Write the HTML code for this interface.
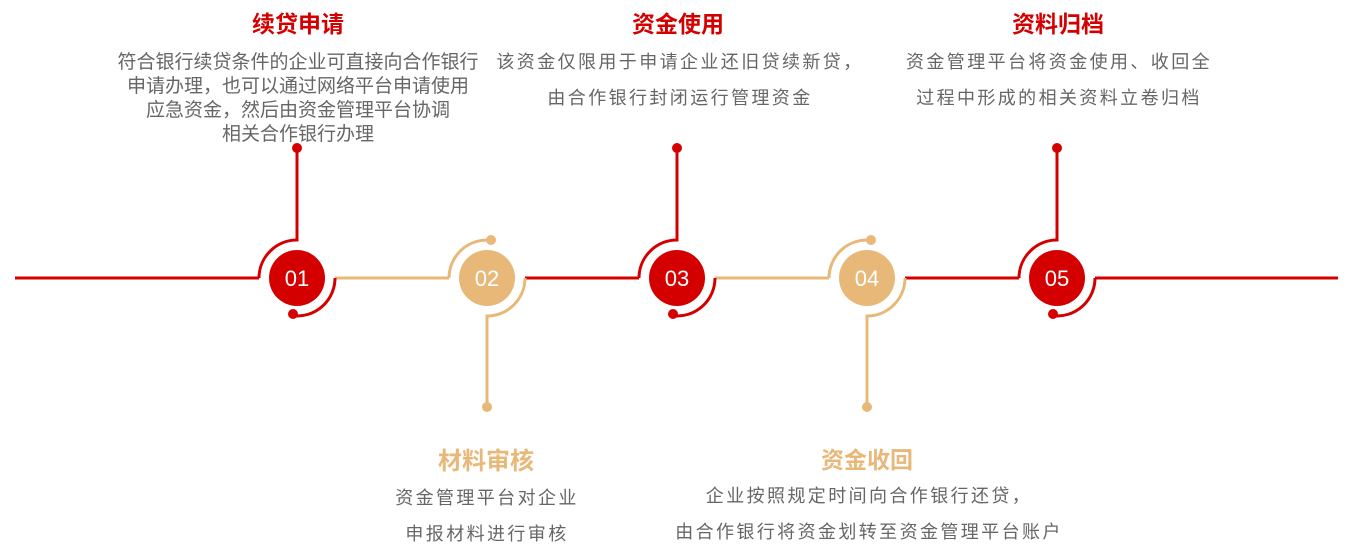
<!DOCTYPE html>
<html><head><meta charset="utf-8"><style>
html,body{margin:0;padding:0;background:#fff;}
svg{display:block;}
text{font-family:"Liberation Sans","Noto Sans CJK SC",sans-serif;}
.t{font-size:23px;font-weight:bold;text-anchor:middle;}
.b{font-size:18px;fill:#666;text-anchor:middle;}
.n{font-size:22px;fill:#fff;text-anchor:middle;}
</style></head><body>
<svg width="1352" height="551" viewBox="0 0 1352 551" xmlns="http://www.w3.org/2000/svg">
<g fill="none" stroke-width="3">
<line x1="15" y1="278" x2="259" y2="278" stroke="#d40000"/>
<line x1="335" y1="278" x2="449" y2="278" stroke="#e8b878"/>
<line x1="525" y1="278" x2="639" y2="278" stroke="#d40000"/>
<line x1="715" y1="278" x2="829" y2="278" stroke="#e8b878"/>
<line x1="905" y1="278" x2="1019" y2="278" stroke="#d40000"/>
<line x1="1095" y1="278" x2="1338" y2="278" stroke="#d40000"/>
<g stroke="#d40000">
<path d="M259 278 A38 38 0 0 1 297 240 L297 148"/><path d="M335 278 A38 38 0 0 1 293 315.8"/>
<path d="M639 278 A38 38 0 0 1 677 240 L677 148"/><path d="M715 278 A38 38 0 0 1 673 315.8"/>
<path d="M1019 278 A38 38 0 0 1 1057 240 L1057 148"/><path d="M1095 278 A38 38 0 0 1 1053 315.8"/>
</g>
<g stroke="#e8b878">
<path d="M449 278 A38 38 0 0 1 491 240.2"/><path d="M525 278 A38 38 0 0 1 487 316 L487 407"/>
<path d="M829 278 A38 38 0 0 1 871 240.2"/><path d="M905 278 A38 38 0 0 1 867 316 L867 407"/>
</g>
</g>
<g fill="#d40000">
<circle cx="297" cy="148" r="5"/><circle cx="293" cy="314" r="5"/>
<circle cx="677" cy="148" r="5"/><circle cx="673" cy="314" r="5"/>
<circle cx="1057" cy="148" r="5"/><circle cx="1053" cy="314" r="5"/>
<circle cx="297" cy="278" r="28"/><circle cx="677" cy="278" r="28"/><circle cx="1057" cy="278" r="28"/>
</g>
<g fill="#e8b878">
<circle cx="491" cy="240" r="5"/><circle cx="487" cy="407" r="5"/>
<circle cx="871" cy="240" r="5"/><circle cx="867" cy="407" r="5"/>
<circle cx="487" cy="278" r="28"/><circle cx="867" cy="278" r="28"/>
</g>
<text class="n" x="297" y="286">01</text>
<text class="n" x="487" y="286">02</text>
<text class="n" x="677" y="286">03</text>
<text class="n" x="867" y="286">04</text>
<text class="n" x="1057" y="286">05</text>

<text class="t" x="298" y="32" fill="#d40000">续贷申请</text>
<text class="b" x="298" y="68" style="font-size:19px">符合银行续贷条件的企业可直接向合作银行</text>
<text class="b" x="298" y="92" style="font-size:19px">申请办理，也可以通过网络平台申请使用</text>
<text class="b" x="298" y="116" style="font-size:19px">应急资金，然后由资金管理平台协调</text>
<text class="b" x="298" y="140" style="font-size:19px">相关合作银行办理</text>

<text class="t" x="678" y="32" fill="#d40000">资金使用</text>
<text class="b" x="680" y="68" letter-spacing="2.4">该资金仅限用于申请企业还旧贷续新贷，</text>
<text class="b" x="680" y="104" letter-spacing="2.4">由合作银行封闭运行管理资金</text>

<text class="t" x="1058" y="32" fill="#d40000">资料归档</text>
<text class="b" x="1059" y="68" letter-spacing="2.4">资金管理平台将资金使用、收回全</text>
<text class="b" x="1059" y="104" letter-spacing="2.4">过程中形成的相关资料立卷归档</text>

<text class="t" x="486" y="469" fill="#e8b878" style="font-size:24px">材料审核</text>
<text class="b" x="487" y="504" letter-spacing="2.4">资金管理平台对企业</text>
<text class="b" x="487" y="540" letter-spacing="2.4">申报材料进行审核</text>

<text class="t" x="867" y="468" fill="#e8b878">资金收回</text>
<text class="b" x="869" y="502" letter-spacing="2.4">企业按照规定时间向合作银行还贷，</text>
<text class="b" x="869" y="538" letter-spacing="2.4">由合作银行将资金划转至资金管理平台账户</text>
</svg>
</body></html>
